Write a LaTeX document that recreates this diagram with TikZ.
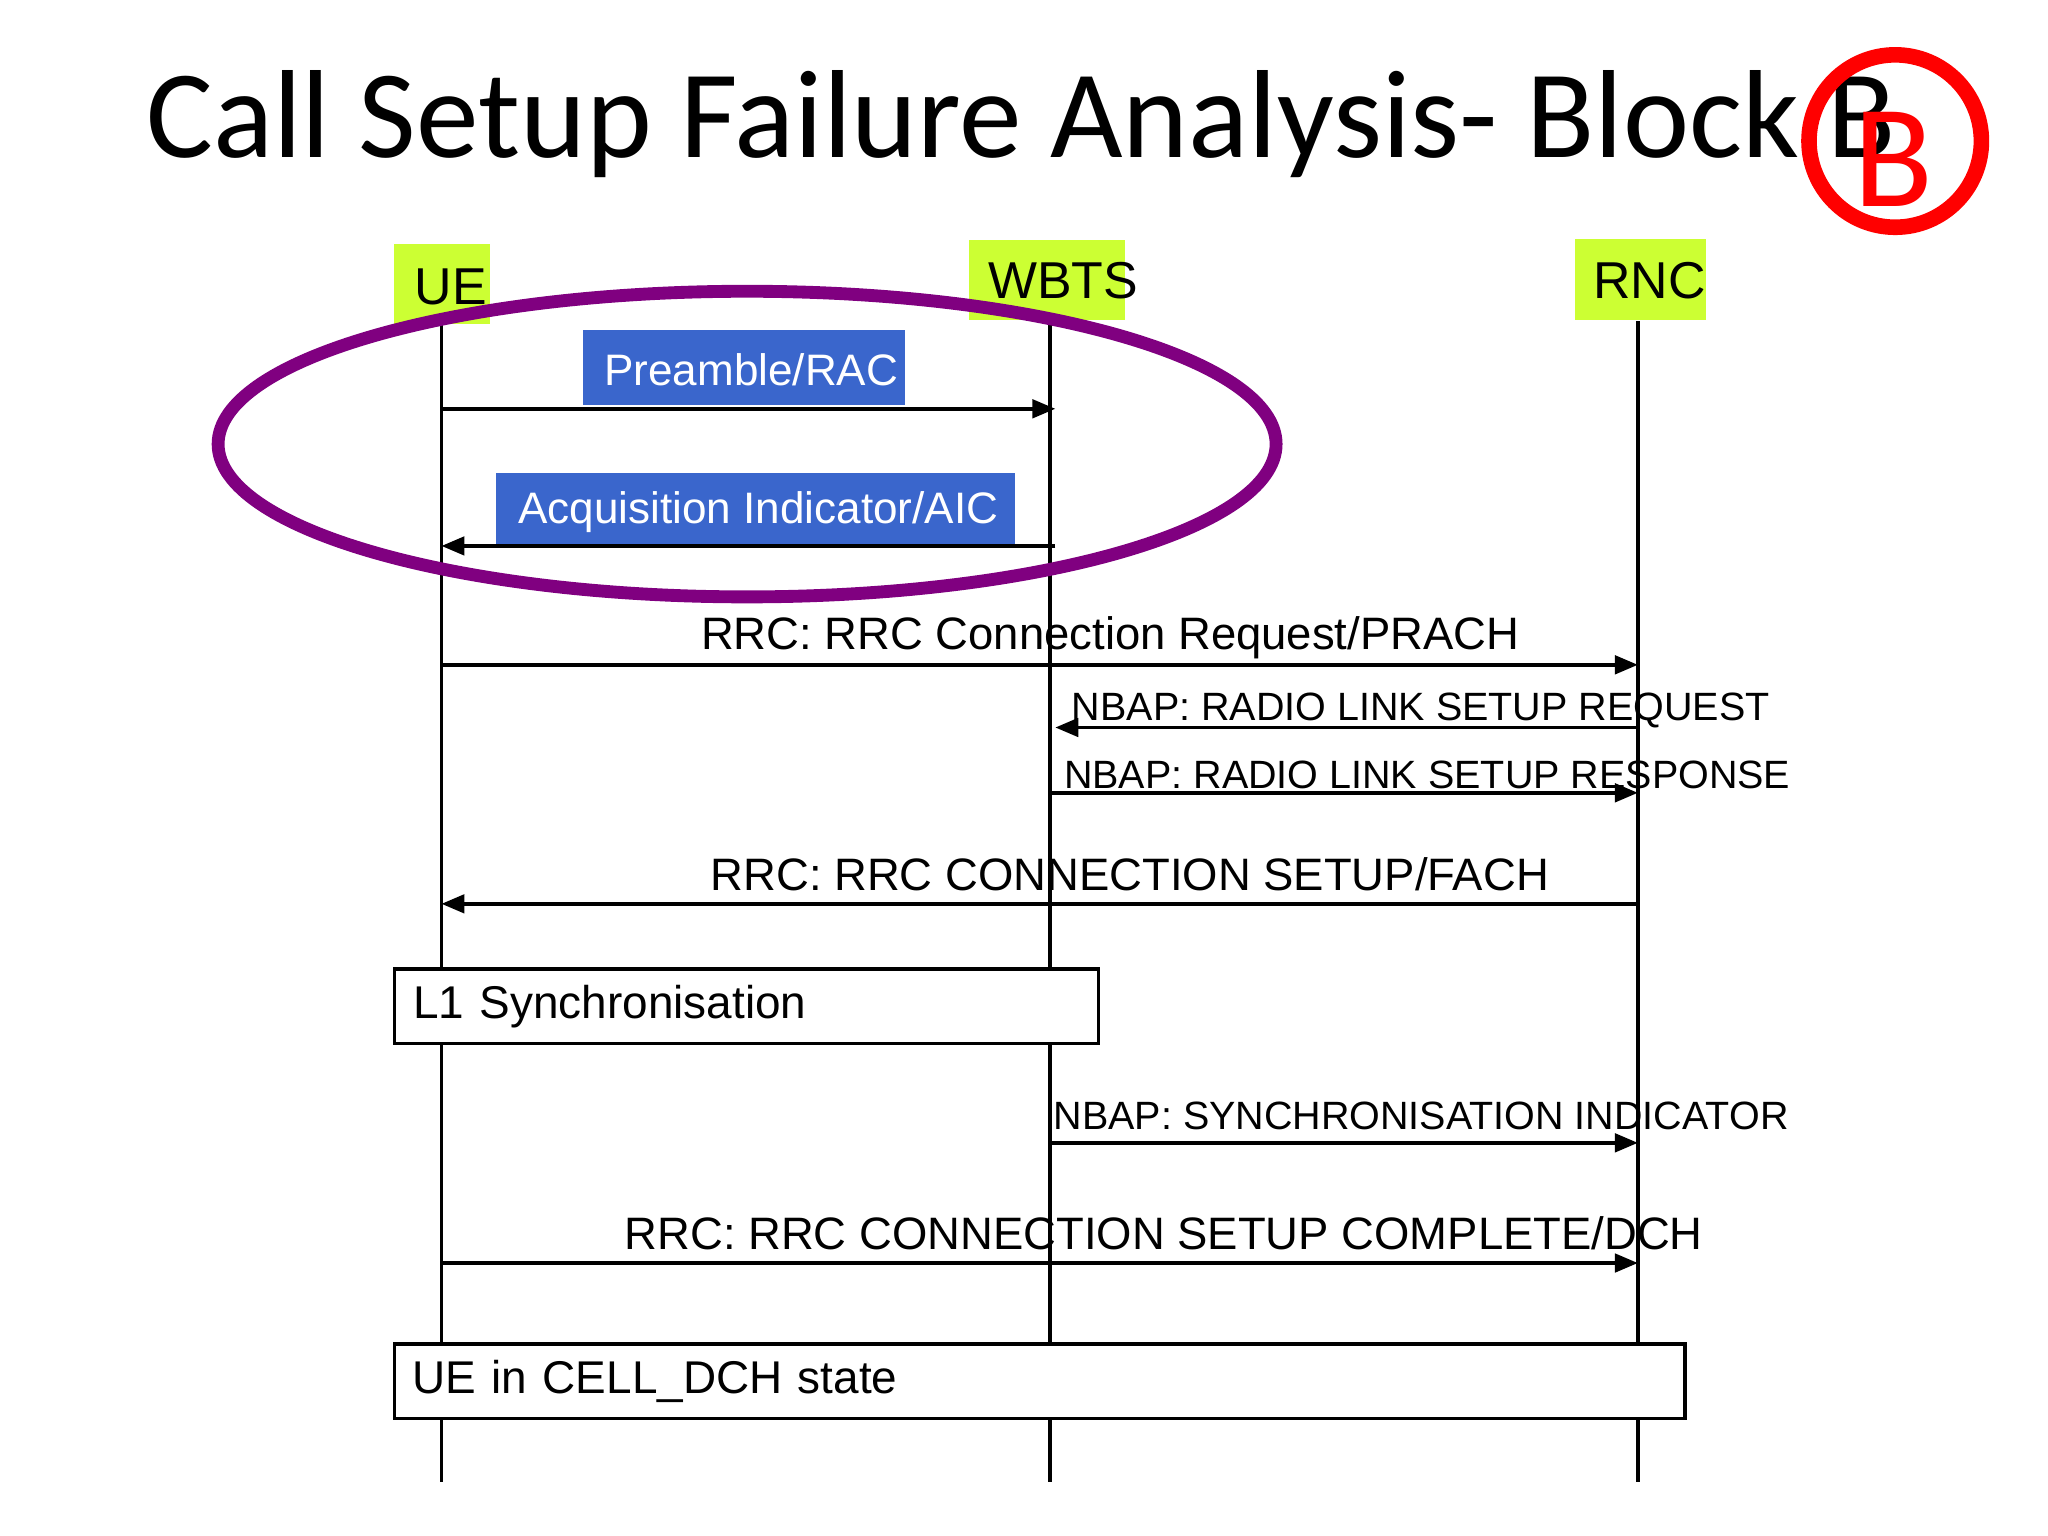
\documentclass[tikz,border=0pt]{standalone}
\usepackage{fontspec}
\setmainfont{Liberation Sans}
\newfontfamily\titlefont{Carlito}
\usetikzlibrary{arrows.meta}
\definecolor{lime}{HTML}{CCFF33}
\definecolor{bluebox}{HTML}{3A66CC}
\definecolor{purp}{HTML}{800080}
\begin{document}
\begin{tikzpicture}[x=1cm,y=-1cm,
  life/.style={line width=0.8pt},
  msg/.style={line width=0.8pt,-{Triangle[length=5pt,width=4pt]}},
  hdr/.style={fill=lime,inner sep=0pt},
  htxt/.style={inner sep=0pt,font=\fontsize{11.3}{14}\selectfont},
  lbl/.style={inner sep=0pt,font=\fontsize{9.9}{12}\selectfont},
  nb/.style={inner sep=0pt,font=\fontsize{8.6}{10}\selectfont,anchor=west},
  blue/.style={fill=bluebox,inner sep=0pt},
  btxt/.style={text=white,inner sep=0pt,anchor=west,font=\fontsize{9.6}{12}\selectfont},
  state/.style={draw,line width=0.8pt,fill=white,inner sep=0pt,font=\fontsize{10}{12}\selectfont}]
\useasboundingbox (0,0) rectangle (15.68,11.76);
\fill[white] (0,0) rectangle (15.68,11.76);
\node (title) at (7.82,0.95) {\titlefont\fontsize{27.3}{32}\selectfont Call Setup Failure Analysis- Block B};
% lifelines
\coordinate (ueT) at (3.38,2.48); \coordinate (ueB) at (3.38,11.35);
\coordinate (wbT) at (8.04,2.48); \coordinate (wbB) at (8.04,11.35);
\coordinate (rnT) at (12.54,2.46); \coordinate (rnB) at (12.54,11.35);
\draw[life] (ueT) -- (ueB);
\draw[life] (wbT) -- (wbB);
\draw[life] (rnT) -- (rnB);
\node[hdr,minimum width=0.73cm,minimum height=0.61cm] (ue) at (3.385,2.175) {};
\node[htxt] (uet) at (3.45,2.2) {UE};
\node[hdr,minimum width=1.19cm,minimum height=0.61cm] (wb) at (8.015,2.145) {};
\node[htxt] (wbt) at (8.14,2.15) {WBTS};
\node[hdr,minimum width=1.0cm,minimum height=0.62cm] (rn) at (12.56,2.14) {};
\node[htxt] (rnt) at (12.63,2.15) {RNC};
% ellipse
\draw[purp,line width=2.8pt] (5.72,3.4) ellipse (4.05 and 1.17);
% blue boxes
\node[blue,minimum width=2.47cm,minimum height=0.57cm] (pre) at (5.695,2.815) {};
\node[btxt] (pret) at (4.62,2.83) {Preamble/RAC};
\node[blue,minimum width=3.97cm,minimum height=0.56cm] (aic) at (5.785,3.9) {};
\node[btxt] (aict) at (3.96,3.92) {Acquisition Indicator/AIC};
% messages
\coordinate (m1a) at (3.38,3.13); \coordinate (m1b) at (8.08,3.13);
\draw[msg] (m1a) -- (m1b);
\coordinate (m2a) at (8.08,4.18); \coordinate (m2b) at (3.38,4.18);
\draw[msg] (m2a) -- (m2b);
\coordinate (m3a) at (3.38,5.09); \coordinate (m3b) at (12.54,5.09);
\draw[msg] (m3a) -- (m3b);
\node[lbl] (l3) at (8.5,4.88) {RRC: RRC Connection Request/PRACH};
\coordinate (m4a) at (12.54,5.57); \coordinate (m4b) at (8.08,5.57);
\draw[msg] (m4a) -- (m4b);
\node[nb] (l4) at (8.2,5.44) {NBAP: RADIO LINK SETUP REQUEST};
\coordinate (m5a) at (8.04,6.07); \coordinate (m5b) at (12.54,6.07);
\draw[msg] (m5a) -- (m5b);
\node[nb] (l5) at (8.14,5.93) {NBAP: RADIO LINK SETUP RESPONSE};
\coordinate (m6a) at (12.54,6.92); \coordinate (m6b) at (3.38,6.92);
\draw[msg] (m6a) -- (m6b);
\node[lbl] (l6) at (8.65,6.69) {RRC: RRC CONNECTION SETUP/FACH};
\node[state,minimum width=5.39cm,minimum height=0.57cm,text width=5.1cm,align=left] (l1) at (5.715,7.705) {\raisebox{-2pt}{L1 Synchronisation}};
\coordinate (m7a) at (8.04,8.75); \coordinate (m7b) at (12.54,8.75);
\draw[msg] (m7a) -- (m7b);
\node[nb] (l7) at (8.06,8.54) {NBAP: SYNCHRONISATION INDICATOR};
\coordinate (m8a) at (3.38,9.67); \coordinate (m8b) at (12.54,9.67);
\draw[msg] (m8a) -- (m8b);
\node[lbl] (l8) at (8.91,9.44) {RRC: RRC CONNECTION SETUP COMPLETE/DCH};
\node[state,minimum width=9.88cm,minimum height=0.57cm,text width=9.6cm,align=left] (dch) at (7.96,10.575) {\raisebox{-2pt}{UE in CELL\_DCH state}};
% red B
\draw[red,line width=3.4pt] (14.51,1.08) circle (0.66);
\node[red,inner sep=0pt] (bb) at (14.5,1.22) {\titlefont\fontsize{32}{36}\selectfont B};
\end{tikzpicture}
\end{document}
